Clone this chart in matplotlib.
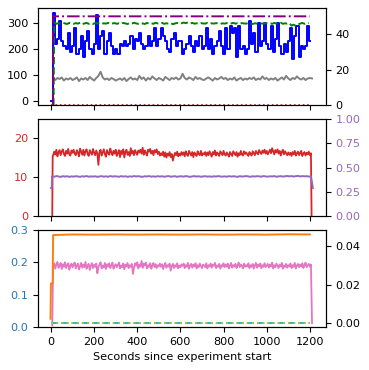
import numpy as np
import matplotlib.pyplot as plt

plt.rcParams['font.size'] = 8.1

# ---- top panel ----
blue_t = [0] + list(range(8, 1200, 10)) + [1200]
blue = [0,
        340, 220, 240, 310, 230, 210, 200, 260, 190, 210,
        280, 180, 200, 250, 170, 230, 270, 200, 180, 220,
        330, 200, 250, 270, 180, 230, 260, 210, 180, 200,
        180, 220, 210, 230, 210, 220, 250, 200, 240, 230,
        260, 220, 200, 210, 250, 210, 230, 280, 210, 240,
        280, 250, 230, 200, 190, 240, 260, 210, 230, 230,
        180, 200, 220, 250, 210, 190, 230, 210, 250, 200,
        210, 280, 200, 240, 180, 210, 230, 270, 210, 180,
        280, 200, 290, 260, 280, 170, 290, 200, 210, 180,
        200, 310, 220, 260, 190, 300, 210, 230, 300, 220,
        200, 290, 190, 240, 300, 210, 180, 220, 190, 230,
        280, 160, 250, 290, 170, 210, 200, 210, 290, 230,
        230]

gray_t = list(range(10, 1211, 10))
gray = [92, 80, 88, 84, 90, 78, 86, 82, 88, 80,
        84, 90, 76, 86, 82, 88, 80, 92, 84, 78,
        88, 96, 112, 90, 82, 86, 80, 88, 84, 78,
        82, 86, 80, 88, 76, 84, 90, 82, 86, 80,
        96, 84, 90, 78, 88, 82, 94, 86, 80, 88,
        84, 78, 92, 86, 80, 88, 84, 90, 82, 86,
        104, 88, 82, 90, 86, 80, 92, 84, 88, 82,
        80, 86, 90, 84, 78, 88, 82, 86, 92, 84,
        88, 80, 86, 82, 90, 78, 84, 88, 80, 86,
        82, 88, 84, 90, 80, 86, 82, 94, 84, 88,
        80, 86, 82, 88, 78, 84, 90, 82, 96, 86,
        80, 88, 84, 94, 86, 82, 88, 80, 86, 88,
        86]

green_t = [12] + list(range(15, 1200, 10))
green = [0,
         46.5, 45.8, 46.2, 45.9, 46.4, 46.0, 45.7, 46.3, 46.1, 45.8,
         46.2, 45.9, 46.4, 45.6, 46.0, 46.3, 45.8, 46.1, 45.7, 46.2,
         46.0, 46.4, 45.8, 46.1, 45.9, 46.3, 45.7, 46.0, 46.2, 45.8,
         46.1, 45.9, 46.3, 46.0, 45.7, 46.2, 45.9, 46.4, 46.0, 45.8,
         46.2, 46.0, 45.7, 46.3, 45.9, 46.1, 45.8, 46.4, 46.0, 45.9,
         46.3, 45.8, 46.1, 45.9, 46.2, 45.6, 46.0, 46.3, 45.8, 46.1,
         46.5, 46.2, 46.6, 46.0, 46.3, 45.9, 46.1, 45.8, 46.2, 46.0,
         45.9, 46.3, 45.8, 46.1, 45.9, 46.2, 46.0, 45.7, 46.1, 45.9,
         46.2, 45.8, 46.0, 46.3, 45.9, 46.1, 45.8, 46.2, 46.0, 45.9,
         46.3, 46.0, 45.7, 46.1, 45.9, 46.4, 46.0, 45.8, 46.2, 46.0,
         46.1, 45.8, 46.3, 45.9, 46.0, 46.4, 45.8, 46.1, 45.9, 46.2,
         44.8, 45.3, 44.6, 45.5, 45.9, 46.3, 45.8, 46.1, 46.2]

purple_t = [9, 10, 1200]
purple = [0, 50, 50]

floor_t = [0, 1200]
floor = [0, 0]

# ---- middle panel ----
red_t = [6, 8] + list(range(10, 1206, 5)) + [1208]
red = [0, 15.5,
       15.6, 16.6, 15.9, 17.1, 15.4, 16.4, 17.0, 15.7, 16.6, 17.2, 16.0, 15.5, 16.8, 16.1, 17.3, 15.9, 15.6, 16.9, 16.3, 17.1,
       16.1, 15.7, 17.0, 16.4, 15.4, 17.4, 16.6, 15.8, 17.1, 15.6, 16.7, 17.2, 16.0, 15.5, 17.0, 16.4, 15.8, 17.3, 16.3, 15.7,
       16.9, 16.1, 13.2, 16.6, 17.1, 15.6, 16.4, 17.2, 16.0, 15.3, 17.0, 16.3, 15.8, 17.4, 16.4, 15.7, 16.8, 16.1, 17.1, 15.5,
       16.3, 17.0, 15.2, 16.8, 16.0, 17.2, 15.1, 16.6, 17.1, 15.8, 16.5, 15.5, 17.5, 16.1, 16.8, 15.7, 17.0, 16.3, 15.8, 16.9,
       16.4, 17.1, 16.1, 17.6, 15.8, 16.9, 16.3, 15.6, 17.1, 16.6, 17.3, 16.1, 16.8, 15.7, 17.0, 16.4, 17.2, 16.0, 16.6, 15.6,
       16.2, 15.7, 16.6, 15.3, 16.4, 15.1, 16.1, 15.6, 16.5, 15.2, 16.0, 14.3, 15.5, 16.3, 15.7, 16.6, 15.4, 16.1, 15.6, 16.5,
       15.8, 16.4, 15.4, 16.7, 15.9, 15.5, 16.8, 16.2, 15.6, 16.5, 15.2, 16.4, 15.9, 15.5, 16.7, 16.0, 15.7, 16.8, 15.6, 16.2,
       15.9, 16.5, 15.5, 16.4, 15.7, 16.7, 16.0, 15.3, 16.5, 15.9, 16.9, 15.6, 16.4, 16.0, 15.5, 16.7, 16.2, 15.7, 16.8, 15.9,
       15.6, 16.4, 15.9, 15.3, 16.5, 16.0, 15.5, 16.7, 16.2, 15.7, 16.5, 15.3, 16.2, 15.7, 16.8, 15.9, 15.6, 16.7, 16.0, 16.4,
       15.9, 15.5, 16.5, 16.0, 15.6, 16.7, 16.2, 15.7, 16.8, 16.3, 15.9, 17.0, 16.4, 16.0, 16.9, 16.3, 17.1, 16.1, 16.8, 15.9,
       16.5, 17.1, 16.2, 17.5, 16.7, 15.9, 17.0, 16.4, 17.2, 16.1, 16.8, 15.6, 16.5, 17.1, 15.9, 16.7, 16.2, 15.7, 16.4, 15.8,
       16.3, 15.5, 16.5, 15.9, 16.8, 15.6, 16.2, 16.6, 15.7, 16.3, 16.8, 15.5, 16.1, 16.5, 15.6, 16.3, 15.9, 16.6, 15.7, 16.2,
       0]

lav_t = [0, 4] + list(range(5, 1206, 10)) + [1214]
lav = [0.29, 0.30,
       0.410, 0.406, 0.413, 0.409, 0.404, 0.412, 0.408, 0.411, 0.405, 0.410,
       0.407, 0.412, 0.409, 0.405, 0.411, 0.408, 0.413, 0.406, 0.410, 0.408,
       0.411, 0.405, 0.409, 0.412, 0.407, 0.410, 0.406, 0.413, 0.408, 0.411,
       0.409, 0.406, 0.412, 0.408, 0.411, 0.405, 0.410, 0.407, 0.413, 0.409,
       0.412, 0.408, 0.405, 0.411, 0.409, 0.413, 0.407, 0.410, 0.406, 0.412,
       0.408, 0.411, 0.406, 0.410, 0.413, 0.407, 0.409, 0.412, 0.405, 0.410,
       0.411, 0.407, 0.413, 0.409, 0.405, 0.410, 0.412, 0.408, 0.411, 0.406,
       0.409, 0.412, 0.407, 0.410, 0.406, 0.411, 0.408, 0.413, 0.409, 0.407,
       0.410, 0.406, 0.412, 0.408, 0.411, 0.409, 0.405, 0.412, 0.408, 0.410,
       0.413, 0.409, 0.406, 0.411, 0.408, 0.412, 0.410, 0.407, 0.413, 0.409,
       0.407, 0.411, 0.409, 0.413, 0.406, 0.410, 0.412, 0.408, 0.411, 0.414,
       0.410, 0.413, 0.408, 0.412, 0.415, 0.409, 0.413, 0.410, 0.412, 0.408,
       0.410, 0.29]

# ---- bottom panel ----
pink_t = [6] + list(range(10, 1206, 5)) + [1210]
pink = [0.005,
        .186, .197, .180, .193, .201, .183, .190, .198, .179, .194, .186, .200, .182, .191, .197, .177, .189, .196, .184, .193,
        .199, .181, .190, .196, .178, .187, .198, .183, .193, .185, .201, .180, .190, .195, .176, .189, .197, .182, .192, .186,
        .196, .166, .185, .193, .200, .181, .190, .184, .198, .179, .194, .187, .197, .182, .190, .199, .180, .189, .194, .185,
        .191, .199, .181, .190, .185, .196, .178, .193, .187, .198, .182, .191, .186, .195, .164, .184, .197, .189, .200, .181,
        .193, .187, .204, .183, .196, .190, .199, .181, .191, .186, .197, .180, .190, .198, .185, .194, .182, .191, .187, .196,
        .186, .194, .179, .190, .198, .183, .191, .187, .196, .174, .189, .195, .182, .191, .186, .197, .181, .190, .185, .193,
        .189, .196, .182, .191, .186, .198, .180, .190, .195, .183, .193, .187, .197, .181, .191, .185, .196, .189, .182, .193,
        .190, .185, .197, .181, .191, .187, .196, .183, .193, .189, .198, .182, .190, .186, .195, .180, .191, .187, .197, .185,
        .193, .186, .196, .181, .190, .198, .183, .191, .187, .195, .182, .190, .199, .185, .193, .189, .181, .196, .186, .191,
        .187, .197, .182, .191, .186, .195, .180, .190, .198, .183, .193, .187, .196, .181, .191, .186, .197, .185, .190, .195,
        .183, .193, .187, .199, .181, .191, .185, .196, .189, .182, .193, .187, .198, .180, .190, .186, .195, .183, .191, .187,
        .196, .182, .191, .186, .198, .181, .190, .195, .185, .193, .187, .197, .182, .191, .199, .185, .190, .195, .186, .193,
        0.012]

orange_t = [-2, 0, 8, 10, 100, 200, 300, 400, 500, 600, 700, 800, 900, 1000, 1100, 1200]
orange = [0.0023, 0.0207, 0.0207, 0.0459, 0.0462, 0.0461, 0.0462, 0.0461, 0.0462,
          0.0461, 0.0462, 0.0461, 0.0462, 0.0461, 0.0463, 0.0462]

zero_t = [0, 1200]
zero_a = [0.0003, 0.0003]
zero_b = [0.0003, 0.0003]

fig, axes = plt.subplots(3, 1, sharex=True, figsize=(3.69, 3.70), dpi=100)
fig.subplots_adjust(left=0.103, right=0.883, top=0.978, bottom=0.116, hspace=0.14)
ax1, ax2, ax3 = axes

ax1.plot(gray_t, gray, color='gray', lw=1.4)
ax1.plot(blue_t, blue, color='blue', lw=1.4, drawstyle='steps-post')
ax1.set_ylim(-18, 358)
ax1r = ax1.twinx()
ax1r.plot(green_t, green, color='green', lw=1.4, ls='--')
ax1r.plot(purple_t, purple, color='purple', lw=1.4, ls='-.')
ax1r.plot(floor_t, floor, color='brown', lw=1.2, ls=':')
ax1r.set_ylim(0, 54.6)

ax2.plot(red_t, red, color='tab:red', lw=1.3)
ax2.set_ylim(0, 25)
ax2.tick_params(axis='y', labelcolor='tab:red')
ax2r = ax2.twinx()
ax2r.plot(lav_t, lav, color='tab:purple', lw=1.4)
ax2r.set_ylim(0, 1)
ax2r.tick_params(axis='y', labelcolor='tab:purple')

ax3.plot(pink_t, pink, color='tab:pink', lw=1.3)
ax3.set_ylim(0, 0.3)
ax3.tick_params(axis='y', labelcolor='tab:blue')
ax3r = ax3.twinx()
ax3r.plot(orange_t, orange, color='tab:orange', lw=1.4)
ax3r.plot(zero_t, zero_a, color='tab:cyan', lw=1.4, ls='--')
ax3r.plot(zero_t, zero_b, color='tab:olive', lw=1.4, ls=':')
ax3.set_xlim(-60, 1274)
ax3.set_xlabel('Seconds since experiment start')

fig.savefig('out.png', dpi=100)
